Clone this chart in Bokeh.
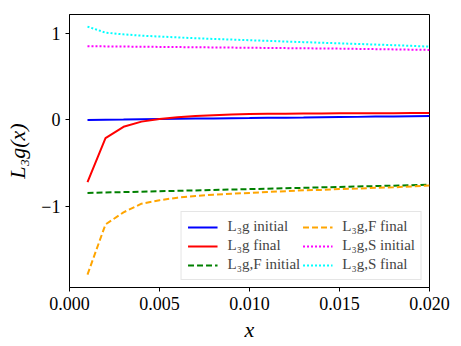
from bokeh.plotting import figure
from bokeh.models import Legend, LegendItem, FixedTicker, PrintfTickFormatter, Range1d
from bokeh.embed import file_html
from bokeh.resources import INLINE

x = [0.001, 0.002, 0.003, 0.004, 0.005, 0.006, 0.007, 0.008, 0.009, 0.010,
     0.011, 0.012, 0.013, 0.014, 0.015, 0.016, 0.017, 0.018, 0.019, 0.020]

l3g_initial = [0.000, 0.003, 0.005, 0.008, 0.010, 0.012, 0.015, 0.017, 0.019, 0.021,
               0.024, 0.026, 0.028, 0.031, 0.033, 0.035, 0.038, 0.040, 0.043, 0.046]
l3g_final = [-0.72, -0.21, -0.08, -0.02, 0.01, 0.03, 0.045, 0.055, 0.062, 0.067,
             0.070, 0.072, 0.074, 0.075, 0.076, 0.077, 0.078, 0.078, 0.079, 0.080]
l3gF_initial = [-0.845, -0.840, -0.836, -0.831, -0.826, -0.821, -0.816, -0.811, -0.806, -0.801,
                -0.796, -0.791, -0.786, -0.781, -0.776, -0.771, -0.766, -0.761, -0.756, -0.751]
l3gF_final = [-1.79, -1.21, -1.07, -0.97, -0.93, -0.90, -0.88, -0.865, -0.855, -0.845,
              -0.835, -0.825, -0.815, -0.81, -0.80, -0.795, -0.785, -0.78, -0.77, -0.76]
l3gS_initial = [0.853, 0.851, 0.849, 0.847, 0.845, 0.843, 0.841, 0.839, 0.837, 0.835,
                0.833, 0.831, 0.829, 0.827, 0.825, 0.822, 0.819, 0.816, 0.813, 0.810]
l3gS_final = [1.08, 1.01, 0.99, 0.975, 0.965, 0.955, 0.945, 0.937, 0.930, 0.922,
              0.915, 0.907, 0.900, 0.893, 0.886, 0.879, 0.872, 0.865, 0.857, 0.848]

x_ticks = [0.0, 0.005, 0.010, 0.015, 0.020]
y_ticks = [-1, 0, 1]
y_tick_labels = {-1: "\u22121", 0: "0", 1: "1"}

FONT = "Liberation Serif"

p = figure(width=453, height=338, output_backend="svg", toolbar_location=None,
           x_range=Range1d(0.0, 0.020), y_range=Range1d(-1.94, 1.22),
           min_border_left=69, min_border_right=24, min_border_top=14, min_border_bottom=51)
p.frame_width = 360
p.frame_height = 273

series = [
    (l3g_initial, "blue", "solid", "L\u2083g initial"),
    (l3g_final, "red", "solid", "L\u2083g final"),
    (l3gF_initial, "green", "6 3", "L\u2083g,F initial"),
    (l3gF_final, "orange", "6 3", "L\u2083g,F final"),
    (l3gS_initial, "magenta", "2 2", "L\u2083g,S initial"),
    (l3gS_final, "cyan", "2 2", "L\u2083g,S final"),
]
items = []
for ys, col, dash, lab in series:
    r = p.line(x, ys, line_color=col, line_width=2, line_dash=dash)
    items.append(LegendItem(label=lab, renderers=[r]))

legend = Legend(items=items, location="bottom_right", ncols=2,
                label_text_font=FONT, label_text_font_size="15px",
                glyph_width=30, glyph_height=16, label_standoff=10,
                spacing=2, padding=6, margin=7,
                border_line_color="#cccccc", border_line_width=1,
                background_fill_alpha=0.8)
p.add_layout(legend)

p.xgrid.visible = False
p.ygrid.visible = False
p.outline_line_color = "black"
p.outline_line_width = 1

p.xaxis.ticker = FixedTicker(ticks=x_ticks)
p.xaxis.formatter = PrintfTickFormatter(format="%.3f")
p.yaxis.ticker = FixedTicker(ticks=y_ticks)
p.yaxis.major_label_overrides = y_tick_labels

for ax in (p.xaxis, p.yaxis):
    ax.axis_line_color = "black"
    ax.major_tick_line_color = "black"
    ax.major_tick_out = 4
    ax.major_tick_in = 0
    ax.minor_tick_line_color = None
    ax.major_label_text_font = FONT
    ax.major_label_text_font_size = "18px"
    ax.major_label_text_color = "black"
    ax.axis_label_text_font = FONT
    ax.axis_label_text_font_size = "22px"
    ax.axis_label_text_font_style = "italic"
    ax.axis_label_text_color = "black"

p.xaxis.axis_label = "x"
p.yaxis.axis_label = "L\u2083g(x)"
p.xaxis.axis_label_standoff = 4
p.yaxis.axis_label_standoff = 8

open("out.html", "w").write(file_html(p, INLINE))
